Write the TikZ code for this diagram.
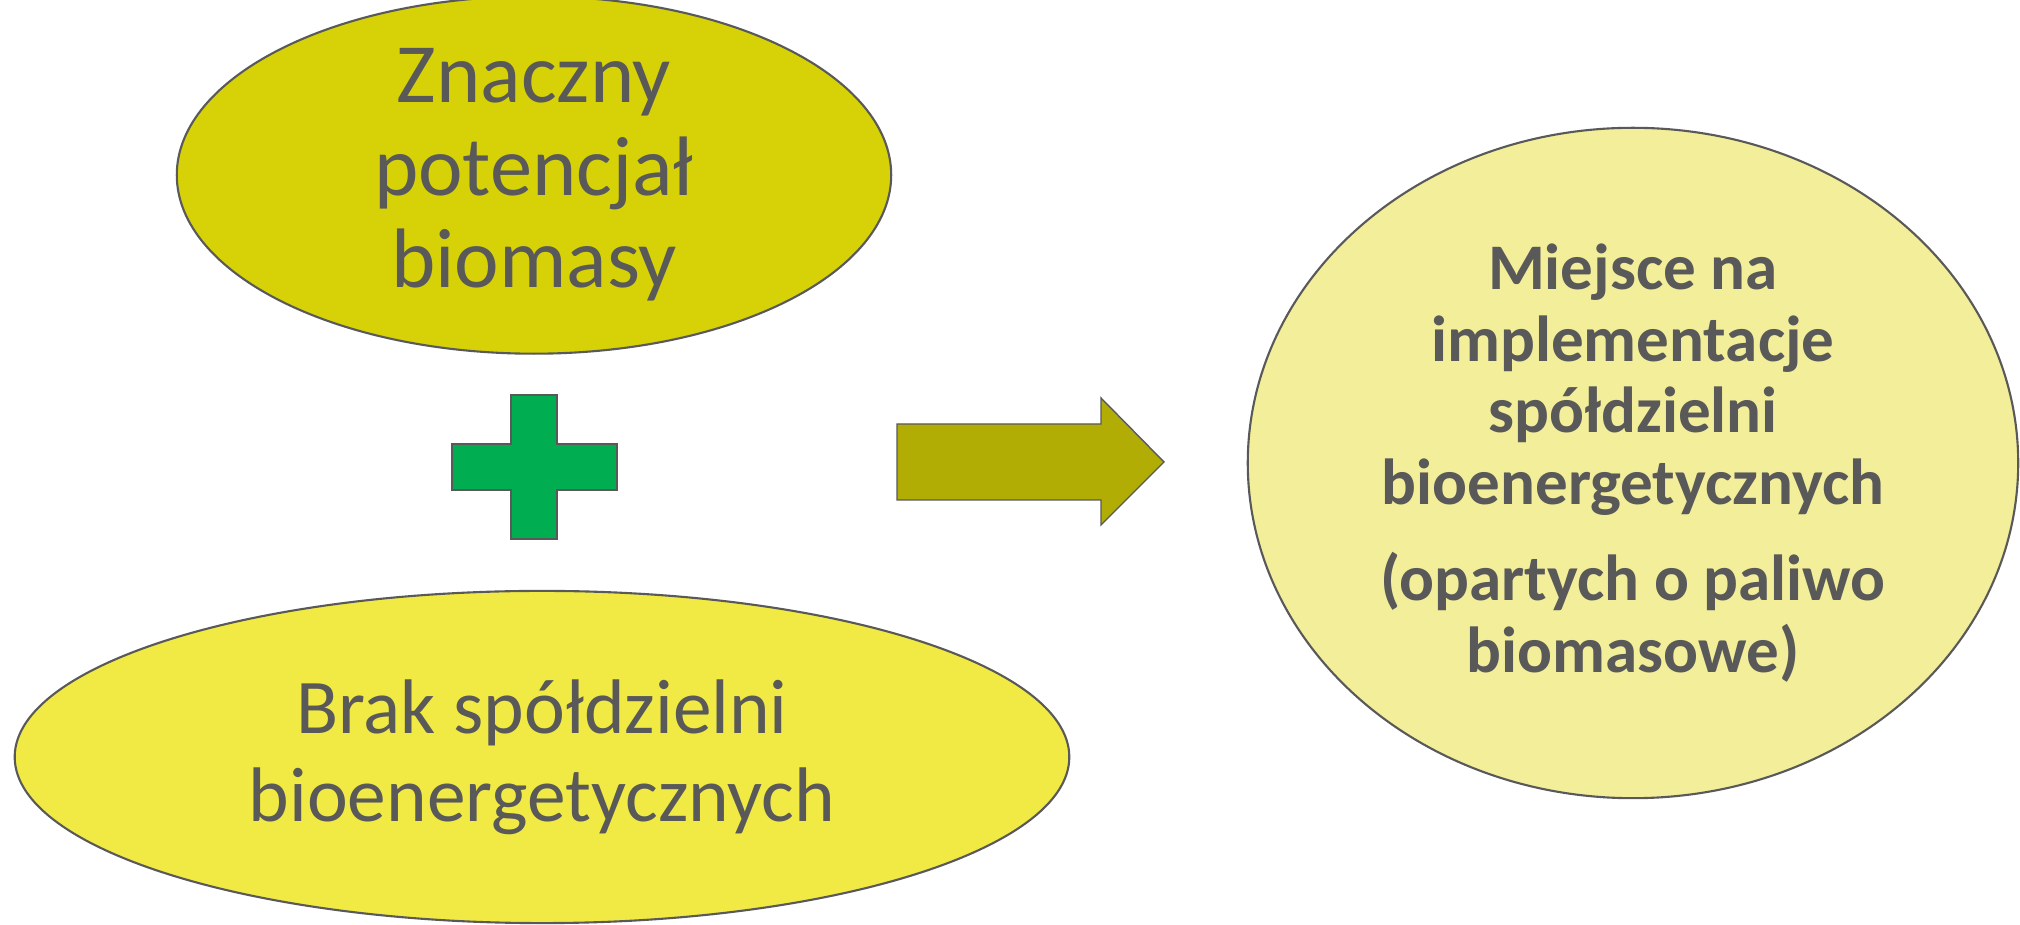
\documentclass[tikz,border=0pt]{standalone}
\usepackage{fontspec}
\setmainfont{Carlito}
\usepackage{xcolor}
\usepackage{tikz}
\usetikzlibrary{shapes.geometric}

\definecolor{rimgray}{RGB}{89,89,89}
\definecolor{textgray}{RGB}{89,89,89}
\definecolor{biomassyellow}{RGB}{215,210,8}
\definecolor{lackyellow}{RGB}{242,234,68}
\definecolor{placeyellow}{RGB}{242,238,154}
\definecolor{plusgreen}{RGB}{0,173,80}
\definecolor{arrowolive}{RGB}{178,173,5}

\begin{document}
\begin{tikzpicture}[x = 0.01cm, y = -0.01cm,
        bubble/.style = {ellipse, draw = rimgray, line width = 0.6pt, inner sep = 0pt,
            text = textgray, align = center},
        sign/.style = {draw = rimgray, line width = 0.4pt}]
        \useasboundingbox (0, 0) rectangle (2020, 925);

        \node[bubble, fill = biomassyellow, minimum width = 7.14cm, minimum height = 3.35cm,
            font = \fontsize{24}{26.3}\selectfont] (potencjal) at (534, 175)
            {Znaczny\\potencjał\\biomasy};
        \node[bubble, fill = lackyellow, minimum width = 10.54cm, minimum height = 3.32cm,
            font = \fontsize{22}{25}\selectfont] (brak) at (542, 757)
            {Brak spółdzielni\\bioenergetycznych};
        \node[bubble, fill = placeyellow, minimum width = 7.7cm, minimum height = 6.7cm,
            font = \fontsize{18.5}{20.45}\selectfont\bfseries] (miejsce) at (1633, 463)
            {Miejsce na\\implementacje\\spółdzielni\\bioenergetycznych\\[6.8pt]
            (opartych o paliwo\\biomasowe)};

        \filldraw[sign, fill = plusgreen] (511, 395) -- (557, 395) -- (557, 444)
            -- (617, 444) -- (617, 490) -- (557, 490) -- (557, 539) -- (511, 539)
            -- (511, 490) -- (452, 490) -- (452, 444) -- (511, 444) -- cycle;
        \filldraw[sign, fill = arrowolive] (897, 424) -- (1101, 424) -- (1101, 398)
            -- (1164, 462) -- (1101, 525) -- (1101, 500) -- (897, 500) -- cycle;
\end{tikzpicture}
\end{document}
